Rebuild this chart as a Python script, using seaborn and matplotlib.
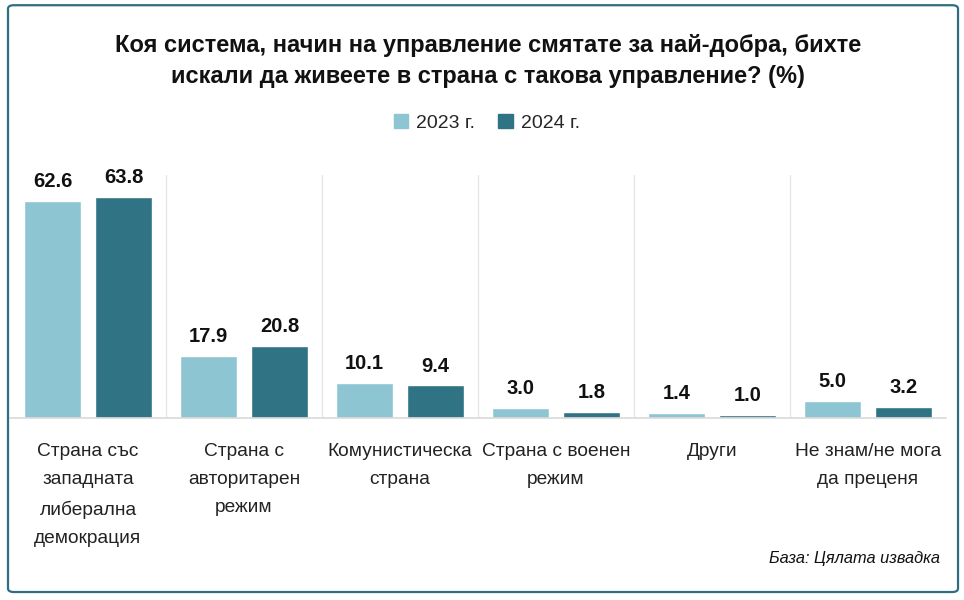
import pandas as pd
import numpy as np
import matplotlib
matplotlib.use("Agg")
import matplotlib.pyplot as plt
from matplotlib.patches import FancyBboxPatch
import seaborn as sns

# Data
categories = [
    "Страна със\nзападната\nлиберална\nдемокрация",
    "Страна с\nавторитарен\nрежим",
    "Комунистическа\nстрана",
    "Страна с военен\nрежим",
    "Други",
    "Не знам/не мога\nда преценя",
]
years = ["2023 г.", "2024 г."]
values_2023 = [62.6, 17.9, 10.1, 3.0, 1.4, 5.0]
values_2024 = [63.8, 20.8, 9.4, 1.8, 1.0, 3.2]

df = pd.DataFrame({
    "category": categories * 2,
    "year": [years[0]] * len(categories) + [years[1]] * len(categories),
    "value": values_2023 + values_2024,
})

sns.set_theme(style="white")
plt.rcParams['font.family'] = ['Liberation Sans Narrow', 'Liberation Sans', 'DejaVu Sans']

colors = ["#8DC6D2", "#2F7384"]

fig = plt.figure(figsize=(9.64, 6), dpi=100)
ax = fig.add_axes([0.0104, 0.3033, 0.9706, 0.405])

sns.barplot(data=df, x="category", y="value", hue="year", palette=colors,
            width=0.91, gap=0.2, ax=ax, legend=False, saturation=1)

ax.set_ylim(0, 70)
ax.set_xlim(-0.5, len(categories) - 0.5)
ax.set_yticks([])
ax.set_xlabel("")
ax.set_ylabel("")
for s in ["top", "right", "left"]:
    ax.spines[s].set_visible(False)
ax.spines["bottom"].set_color("#d9d9d9")
ax.spines["bottom"].set_linewidth(1.2)

# vertical separators between categories
for i in range(1, len(categories)):
    ax.axvline(i - 0.5, color="#e6e6e6", lw=1, zorder=0)

ax.tick_params(axis="x", length=0, pad=18)
ax.set_xticks(range(len(categories)))
ax.set_xticklabels(categories, fontsize=13.8, color="#222222", linespacing=1.85)

for cont in ax.containers:
    ax.bar_label(cont, fmt="%.1f", padding=7, fontsize=14.5, fontweight="bold", color="#111111")

fig.text(0.506, 0.898, "Коя система, начин на управление смятате за най-добра, бихте\nискали да живеете в страна с такова управление? (%)",
         ha="center", va="center", fontsize=17, fontweight="bold", color="#111111", linespacing=1.45)

# legend
handles = [plt.Rectangle((0, 0), 1, 1, color=c) for c in colors]
fig.legend(handles, years, loc="center", bbox_to_anchor=(0.505, 0.795), ncol=2,
           frameon=False, fontsize=14, handlelength=0.75, handleheight=0.75,
           handletextpad=0.4, columnspacing=1.2)

fig.text(0.975, 0.07, "База: Цялата извадка", ha="right", va="center",
         fontsize=11.8, style="italic", color="#111111")

border = FancyBboxPatch((0.0083, 0.0133), 0.9855, 0.978, boxstyle="round,pad=0,rounding_size=0.006",
                        transform=fig.transFigure, fill=False, edgecolor="#2F6E80", lw=1.6)
fig.patches.append(border)

fig.savefig("out.png", dpi=100)
